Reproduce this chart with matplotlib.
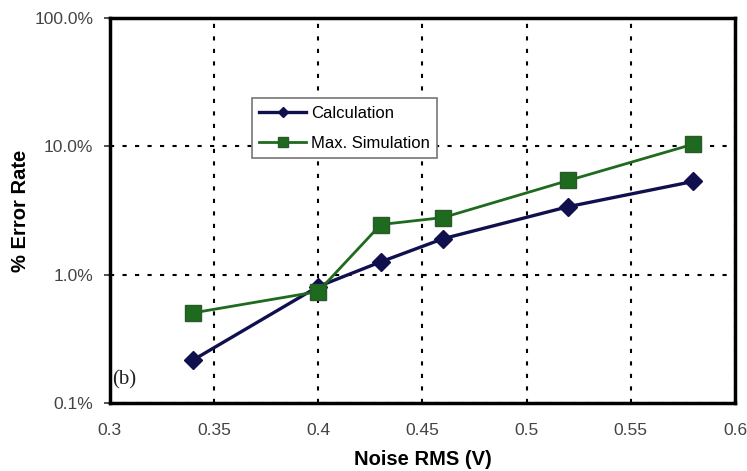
import matplotlib
matplotlib.use("Agg")
import matplotlib.pyplot as plt
from matplotlib.ticker import FixedLocator, FixedFormatter, NullLocator

plt.rcParams['font.family'] = ['Liberation Sans', 'DejaVu Sans']

noise_rms = [0.34, 0.40, 0.43, 0.46, 0.52, 0.58]
calc_pct = [0.217, 0.81, 1.26, 1.91, 3.39, 5.33]
sim_pct = [0.505, 0.74, 2.46, 2.79, 5.42, 10.4]

x_ticks = [0.3, 0.35, 0.4, 0.45, 0.5, 0.55, 0.6]
x_tick_labels = ['0.3', '0.35', '0.4', '0.45', '0.5', '0.55', '0.6']
y_ticks = [0.1, 1.0, 10.0, 100.0]
y_tick_labels = ['0.1%', '1.0%', '10.0%', '100.0%']

fig = plt.figure(figsize=(7.47, 4.71), dpi=100)
ax = fig.add_axes([0.147, 0.144, 0.837, 0.818])

ax.plot(noise_rms, calc_pct, color='#10104f', lw=2.4, marker='D', ms=9,
        label='Calculation', zorder=3)
ax.plot(noise_rms, sim_pct, color='#1e6a1e', lw=2.0, marker='s', ms=11,
        markeredgecolor='#2a5a2a', label='Max. Simulation', zorder=4)

ax.set_yscale('log')
ax.set_xlim(0.3, 0.6)
ax.set_ylim(0.1, 100)
ax.xaxis.set_major_locator(FixedLocator(x_ticks))
ax.xaxis.set_major_formatter(FixedFormatter(x_tick_labels))
ax.yaxis.set_major_locator(FixedLocator(y_ticks))
ax.yaxis.set_major_formatter(FixedFormatter(y_tick_labels))
ax.yaxis.set_minor_locator(NullLocator())

ax.grid(True, which='major', color='black', linestyle=(0, (2, 4)), lw=1.5)
for s in ax.spines.values():
    s.set_linewidth(2.5)
ax.tick_params(axis='y', direction='out', length=4, width=1.2, pad=8,
               labelsize=12.5, colors='#333333', labelcolor='#444444')
ax.tick_params(axis='x', length=0, pad=14, labelsize=12.5, labelcolor='#444444')

ax.set_xlabel('Noise RMS (V)', fontsize=14.5, fontweight='bold', labelpad=9)
ax.set_ylabel('% Error Rate', fontsize=14.5, fontweight='bold', labelpad=3)

ax.text(0.301, 0.14, '(b)', fontsize=15, family='Liberation Serif',
        color='#222222')

leg = ax.legend(loc='upper left', bbox_to_anchor=(0.227, 0.792), fontsize=12,
                frameon=True, fancybox=False, shadow=False, handlelength=2.8,
                markerscale=0.6, borderpad=0.45, labelspacing=0.9,
                handletextpad=0.3, borderaxespad=0)
leg.get_frame().set_edgecolor('#777777')
leg.get_frame().set_linewidth(1.2)
leg.get_frame().set_alpha(1)

fig.savefig('out.png', dpi=100)
